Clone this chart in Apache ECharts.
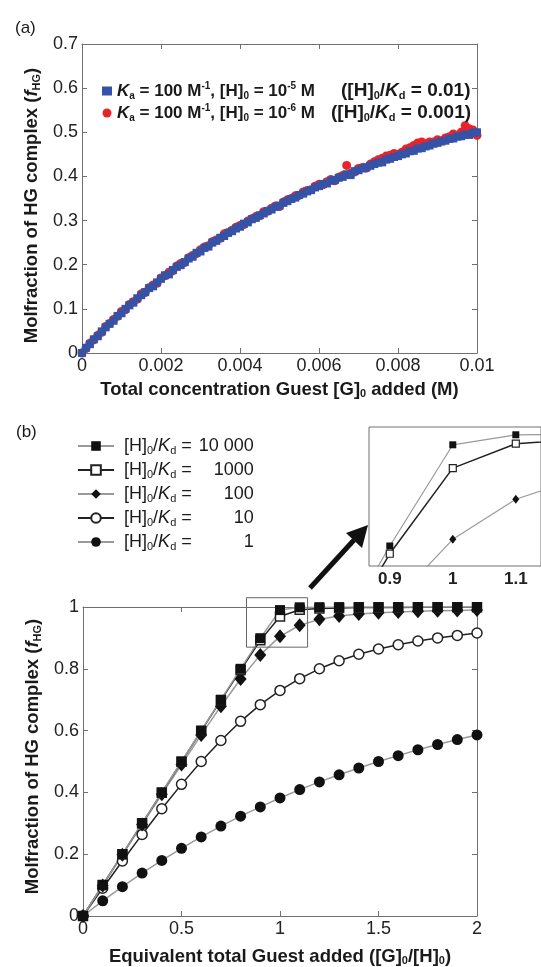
<!DOCTYPE html>
<html>
<head>
<meta charset="utf-8">
<script src="https://cdn.jsdelivr.net/npm/echarts@6/dist/echarts.min.js"></script>
<style>
html, body { margin: 0; padding: 0; background: #fff; }
#chart { width: 541px; height: 967px; }
</style>
</head>
<body>
<div id="chart"></div>
<script>
// (a) total guest concentration (M) and measured fractions
var conc = [0, 0.0001, 0.0002, 0.0003, 0.0004, 0.0005, 0.0006, 0.0007, 0.0008, 0.0009,
    0.0010, 0.0011, 0.0012, 0.0013, 0.0014, 0.0015, 0.0016, 0.0017, 0.0018, 0.0019,
    0.0020, 0.0021, 0.0022, 0.0023, 0.0024, 0.0025, 0.0026, 0.0027, 0.0028, 0.0029,
    0.0030, 0.0031, 0.0032, 0.0033, 0.0034, 0.0035, 0.0036, 0.0037, 0.0038, 0.0039,
    0.0040, 0.0041, 0.0042, 0.0043, 0.0044, 0.0045, 0.0046, 0.0047, 0.0048, 0.0049,
    0.0050, 0.0051, 0.0052, 0.0053, 0.0054, 0.0055, 0.0056, 0.0057, 0.0058, 0.0059,
    0.0060, 0.0061, 0.0062, 0.0063, 0.0064, 0.0065, 0.0066, 0.0067, 0.0068, 0.0069,
    0.0070, 0.0071, 0.0072, 0.0073, 0.0074, 0.0075, 0.0076, 0.0077, 0.0078, 0.0079,
    0.0080, 0.0081, 0.0082, 0.0083, 0.0084, 0.0085, 0.0086, 0.0087, 0.0088, 0.0089,
    0.0090, 0.0091, 0.0092, 0.0093, 0.0094, 0.0095, 0.0096, 0.0097, 0.0098, 0.0099, 0.0100];
var fracH5 = [0.000, 0.012, 0.020, 0.031, 0.038, 0.049, 0.058, 0.066, 0.073, 0.084,
    0.090, 0.100, 0.108, 0.114, 0.124, 0.131, 0.138, 0.147, 0.151, 0.160,
    0.168, 0.176, 0.178, 0.188, 0.195, 0.199, 0.206, 0.214, 0.218, 0.227,
    0.230, 0.238, 0.241, 0.250, 0.254, 0.261, 0.265, 0.272, 0.276, 0.282,
    0.286, 0.293, 0.296, 0.303, 0.306, 0.312, 0.316, 0.322, 0.325, 0.331,
    0.334, 0.340, 0.344, 0.349, 0.352, 0.358, 0.361, 0.366, 0.369, 0.375,
    0.378, 0.383, 0.384, 0.390, 0.392, 0.397, 0.399, 0.405, 0.403, 0.412,
    0.414, 0.418, 0.421, 0.424, 0.428, 0.431, 0.432, 0.438, 0.440, 0.444,
    0.446, 0.450, 0.452, 0.457, 0.458, 0.463, 0.464, 0.468, 0.470, 0.474,
    0.476, 0.479, 0.481, 0.485, 0.486, 0.490, 0.491, 0.495, 0.494, 0.499, 0.500];
var fracH6 = [0.000, 0.010, 0.022, 0.030, 0.040, 0.047, 0.060, 0.067, 0.076, 0.083,
    0.094, 0.098, 0.110, 0.116, 0.122, 0.134, 0.137, 0.148, 0.154, 0.158,
    0.170, 0.175, 0.183, 0.186, 0.197, 0.203, 0.205, 0.216, 0.221, 0.225,
    0.234, 0.240, 0.243, 0.252, 0.256, 0.260, 0.270, 0.273, 0.278, 0.285,
    0.289, 0.291, 0.299, 0.304, 0.309, 0.311, 0.320, 0.321, 0.328, 0.333,
    0.332, 0.342, 0.347, 0.350, 0.356, 0.357, 0.365, 0.368, 0.370, 0.378,
    0.382, 0.381, 0.388, 0.393, 0.390, 0.398, 0.402, 0.425, 0.407, 0.410,
    0.418, 0.420, 0.419, 0.428, 0.433, 0.438, 0.441, 0.446, 0.448, 0.452,
    0.450, 0.455, 0.462, 0.465, 0.470, 0.476, 0.478, 0.474, 0.478, 0.478,
    0.483, 0.481, 0.487, 0.490, 0.496, 0.492, 0.500, 0.515, 0.508, 0.505, 0.493];

// (b) equivalents of guest added and fraction bound for each [H]0/Kd
var equiv = [0, 0.1, 0.2, 0.3, 0.4, 0.5, 0.6, 0.7, 0.8, 0.9, 1.0,
    1.1, 1.2, 1.3, 1.4, 1.5, 1.6, 1.7, 1.8, 1.9, 2.0];
var f10000 = [0, 0.100, 0.200, 0.300, 0.400, 0.500, 0.600, 0.700, 0.800, 0.899, 0.990,
    0.999, 0.9995, 0.9997, 0.9997, 0.9998, 0.9998, 0.9999, 0.9999, 0.9999, 0.9999];
var f1000 = [0, 0.100, 0.200, 0.300, 0.399, 0.499, 0.599, 0.698, 0.796, 0.892, 0.969,
    0.991, 0.995, 0.997, 0.998, 0.998, 0.998, 0.999, 0.999, 0.999, 0.999];
var f100 = [0, 0.099, 0.198, 0.296, 0.394, 0.490, 0.586, 0.679, 0.767, 0.845, 0.905,
    0.941, 0.960, 0.971, 0.977, 0.981, 0.984, 0.986, 0.988, 0.989, 0.990];
var f10 = [0, 0.090, 0.178, 0.264, 0.347, 0.426, 0.500, 0.568, 0.630, 0.684, 0.730,
    0.768, 0.800, 0.826, 0.847, 0.864, 0.878, 0.890, 0.900, 0.908, 0.916];
var f1 = [0, 0.049, 0.095, 0.139, 0.180, 0.219, 0.256, 0.291, 0.323, 0.353, 0.382,
    0.409, 0.434, 0.457, 0.479, 0.500, 0.519, 0.538, 0.555, 0.571, 0.586];
var ratioLabels = {r10000: '10 000', r1000: '1000', r100: '100', r10: '10', r1: '1'};

var FONT = 'Liberation Sans';
var AX = '#707070';
var INK = '#1a1a1a';

function pairs(xs, ys) {
    return xs.map(function (x, i) { return [x, ys[i]]; });
}

function rt(size, weight, extra) {
    var o = {fontFamily: FONT, fontSize: size, fontWeight: weight, color: INK, lineHeight: 20};
    for (var k in extra) o[k] = extra[k];
    return o;
}

var nameRich = {
    b: rt(18.5, 'bold'),
    bi: rt(18.5, 'bold', {fontStyle: 'italic'}),
    s: rt(11, 'bold', {verticalAlign: 'bottom', lineHeight: 10})
};

function valAxis(grid, pos, min, max, step, labels, extra) {
    var a = {
        gridIndex: grid, type: 'value', position: pos, min: min, max: max, interval: step,
        axisLine: {show: true, onZero: false, lineStyle: {color: AX, width: 1}},
        axisTick: {show: true, inside: true, length: 5, lineStyle: {color: AX}},
        axisLabel: {show: labels, fontFamily: FONT, fontSize: 18, color: '#222', margin: 4,
            formatter: function (v) { return v === 0 ? '0' : String(+v.toFixed(4)); }},
        splitLine: {show: false}
    };
    for (var k in extra) a[k] = extra[k];
    return a;
}

function nameStyle(pad) {
    return {rich: nameRich, fontFamily: FONT, fontSize: 18.5, fontWeight: 'bold', color: INK, padding: pad};
}

var yName = '{b|Molfraction of HG complex (}{bi|f}{s|HG}{b|)}';

var chart = echarts.init(document.getElementById('chart'));

var option = {
    animation: false,
    backgroundColor: '#fff',
    title: [
        {text: '(a)', left: 10, top: 15, textStyle: {fontFamily: FONT, fontSize: 17, fontWeight: 'normal', color: INK}},
        {text: '(b)', left: 11, top: 419, textStyle: {fontFamily: FONT, fontSize: 17, fontWeight: 'normal', color: INK}}
    ],
    grid: [
        {left: 82, top: 44, width: 395, height: 309},
        {left: 83, top: 607, width: 394, height: 310},
        {left: 369, top: 427, width: 180, height: 139, show: true, borderColor: AX, borderWidth: 1, backgroundColor: '#fff', z: 5}
    ],
    legend: [
        {
            data: ['b5', 'r6'], orient: 'vertical', left: 97, top: 76, itemGap: 2,
            itemWidth: 10, itemHeight: 9, itemStyle: {borderWidth: 0},
            formatter: function (name) {
                var e = name === 'b5' ? '-5' : '-6';
                var tail = name === 'b5' ? '{g1| }{q|([H]}{qs|0}{q|/}{qi|K}{qs|d}{q| = 0.01)}'
                                         : '{g2| }{q|([H]}{qs|0}{q|/}{qi|K}{qs|d}{q| = 0.001)}';
                return '{i|K}{s|a}{t| = 100 M}{p|-1}{t|, [H]}{s|0}{t| = 10}{p|' + e + '}{t| M}' + tail;
            },
            textStyle: {
                rich: {
                    t: rt(17, 'bold'),
                    i: rt(17, 'bold', {fontStyle: 'italic'}),
                    s: rt(10, 'bold', {verticalAlign: 'bottom', lineHeight: 10}),
                    p: rt(10, 'bold', {verticalAlign: 'top', lineHeight: 10}),
                    q: rt(19, 'bold'),
                    qi: rt(19, 'bold', {fontStyle: 'italic'}),
                    qs: rt(11, 'bold', {verticalAlign: 'bottom', lineHeight: 10}),
                    g1: rt(17, 'bold', {width: 26}),
                    g2: rt(17, 'bold', {width: 16})
                }
            }
        },
        {
            data: ['r10000', 'r1000', 'r100', 'r10', 'r1'], orient: 'vertical', left: 72, top: 432, itemGap: 5,
            itemWidth: 36, itemHeight: 12,
            formatter: function (name) {
                return '{g| }{a|[H]}{s|0}{a|/}{i|K}{s|d}{a| =}{v|' + ratioLabels[name] + '}';
            },
            textStyle: {
                rich: {
                    g: rt(18, 'normal', {width: 5}),
                    a: rt(18, 'normal'),
                    i: rt(18, 'normal', {fontStyle: 'italic'}),
                    s: rt(11, 'normal', {verticalAlign: 'bottom', lineHeight: 10}),
                    v: rt(18, 'normal', {width: 62, align: 'right'})
                }
            }
        }
    ],
    xAxis: [
        valAxis(0, 'bottom', 0, 0.01, 0.002, true, {
            name: 'Total concentration Guest [G]{s|0} added (M)', nameLocation: 'middle', nameGap: 27,
            nameTextStyle: nameStyle(0)
        }),
        valAxis(0, 'top', 0, 0.01, 0.002, false),
        valAxis(1, 'bottom', 0, 2, 0.5, true, {
            name: 'Equivalent total Guest added ([G]{s|0}/[H]{s|0})', nameLocation: 'middle', nameGap: 31,
            nameTextStyle: nameStyle(0)
        }),
        valAxis(1, 'top', 0, 2, 0.5, false),
        {
            gridIndex: 2, type: 'value', min: 0.867, max: 1.14, z: 6,
            axisLine: {show: false}, axisTick: {show: false}, splitLine: {show: false},
            axisLabel: {show: true, customValues: [0.9, 1, 1.1], fontFamily: FONT, fontSize: 17,
                fontWeight: 'bold', color: '#222', margin: 5}
        }
    ],
    yAxis: [
        valAxis(0, 'left', 0, 0.7, 0.1, true, {
            name: yName, nameLocation: 'middle', nameGap: 34,
            nameTextStyle: nameStyle([0, 14, 0, 0])
        }),
        valAxis(0, 'right', 0, 0.7, 0.1, false),
        valAxis(1, 'left', 0, 1, 0.2, true, {
            name: yName, nameLocation: 'middle', nameGap: 34,
            nameTextStyle: nameStyle([0, 0, 0, 10])
        }),
        valAxis(1, 'right', 0, 1, 0.2, false),
        {
            gridIndex: 2, type: 'value', min: 0.881, max: 1.006, z: 6,
            axisLine: {show: false}, axisTick: {show: false}, axisLabel: {show: false}, splitLine: {show: false}
        }
    ],
    series: [
        {name: 'r6', type: 'scatter', xAxisIndex: 0, yAxisIndex: 0, data: pairs(conc, fracH6),
            symbol: 'circle', symbolSize: 9, itemStyle: {color: '#e8242b', opacity: 1}},
        {name: 'b5', type: 'scatter', xAxisIndex: 0, yAxisIndex: 0, data: pairs(conc, fracH5),
            symbol: 'rect', symbolSize: 8, itemStyle: {color: '#3553a6', opacity: 1}},

        {name: 'r1', type: 'line', xAxisIndex: 2, yAxisIndex: 2, data: pairs(equiv, f1),
            lineStyle: {color: '#9a9a9a', width: 1.5}, symbol: 'circle', symbolSize: 11,
            itemStyle: {color: '#111', borderColor: '#111', borderWidth: 0}},
        {name: 'r10', type: 'line', xAxisIndex: 2, yAxisIndex: 2, data: pairs(equiv, f10),
            lineStyle: {color: '#222', width: 1.5}, symbol: 'circle', symbolSize: 10,
            itemStyle: {color: '#fff', borderColor: '#222', borderWidth: 1.5}},
        {name: 'r100', type: 'line', xAxisIndex: 2, yAxisIndex: 2, data: pairs(equiv, f100),
            lineStyle: {color: '#9a9a9a', width: 1.5}, symbol: 'diamond', symbolSize: [12, 14],
            itemStyle: {color: '#111', borderColor: '#111', borderWidth: 0}},
        {name: 'r1000', type: 'line', xAxisIndex: 2, yAxisIndex: 2, data: pairs(equiv, f1000),
            lineStyle: {color: '#222', width: 1.5}, symbol: 'rect', symbolSize: 9,
            itemStyle: {color: '#fff', borderColor: '#222', borderWidth: 1.5}},
        {name: 'r10000', type: 'line', xAxisIndex: 2, yAxisIndex: 2, data: pairs(equiv, f10000),
            lineStyle: {color: '#9a9a9a', width: 1.5}, symbol: 'rect', symbolSize: 10,
            itemStyle: {color: '#111', borderColor: '#111', borderWidth: 0}},

        {name: 'in100', type: 'line', xAxisIndex: 4, yAxisIndex: 4, data: pairs(equiv, f100), z: 7,
            lineStyle: {color: '#9a9a9a', width: 1.2}, symbol: 'diamond', symbolSize: [7, 9],
            itemStyle: {color: '#111', borderWidth: 0}},
        {name: 'in1000', type: 'line', xAxisIndex: 4, yAxisIndex: 4, data: pairs(equiv, f1000), z: 7,
            lineStyle: {color: '#222', width: 1.5}, symbol: 'rect', symbolSize: 7,
            itemStyle: {color: '#fff', borderColor: '#222', borderWidth: 1.2}},
        {name: 'in10000', type: 'line', xAxisIndex: 4, yAxisIndex: 4, data: pairs(equiv, f10000), z: 7,
            lineStyle: {color: '#9a9a9a', width: 1.2}, symbol: 'rect', symbolSize: 7,
            itemStyle: {color: '#111', borderWidth: 0}}
    ]
};

chart.setOption(option);

// zoom frame in (b) and arrow pointing at the inset
var c1 = chart.convertToPixel({xAxisIndex: 2, yAxisIndex: 2}, [0.83, 1.03]);
var c2 = chart.convertToPixel({xAxisIndex: 2, yAxisIndex: 2}, [1.14, 0.87]);
chart.setOption({
    graphic: [
        {type: 'rect', z: 10, shape: {x: c1[0], y: c1[1], width: c2[0] - c1[0], height: c2[1] - c1[1]},
            style: {fill: 'none', stroke: '#666', lineWidth: 1}},
        {type: 'line', z: 10, shape: {x1: 310, y1: 588, x2: 354, y2: 540},
            style: {stroke: '#111', lineWidth: 5}},
        {type: 'polygon', z: 10, shape: {points: [[368, 525], [362, 548], [346, 533]]},
            style: {fill: '#111'}}
    ]
});
</script>
</body>
</html>
